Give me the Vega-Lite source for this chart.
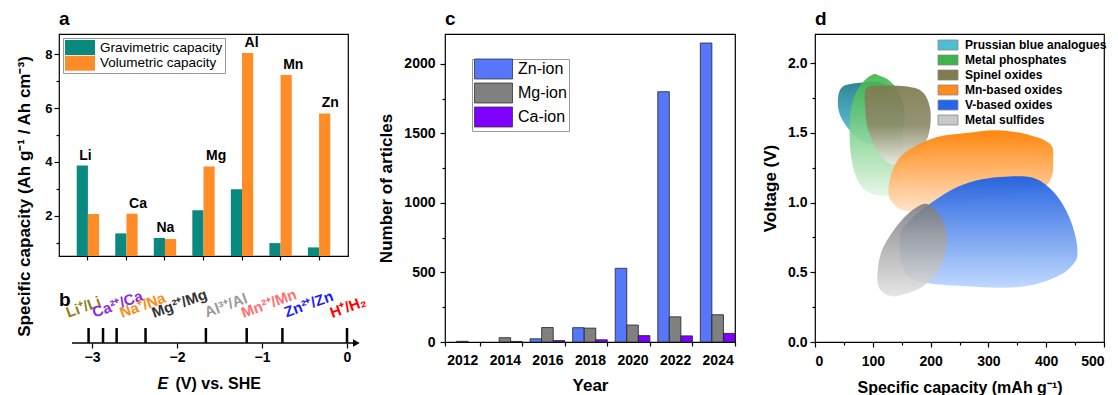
{
  "$schema": "https://vega.github.io/schema/vega-lite/v6.json",
  "padding": {"left": 14, "top": 9, "right": 5, "bottom": 5},
  "spacing": 5,
  "resolve": {"scale": {"color": "independent", "xOffset": "independent"}, "legend": {"color": "independent"}},
  "hconcat": [
    {
      "bounds": "flush",
      "spacing": 30,
      "resolve": {"scale": {"color": "independent", "xOffset": "independent"}, "legend": {"color": "independent"}},
      "vconcat": [
        {
          "title": {"text": "a"},
          "width": 289,
          "height": 222,
          "data": {"values": [
            {"metal": "Li", "kind": "Gravimetric capacity", "cap": 3.86},
            {"metal": "Li", "kind": "Volumetric capacity", "cap": 2.06},
            {"metal": "Ca", "kind": "Gravimetric capacity", "cap": 1.34},
            {"metal": "Ca", "kind": "Volumetric capacity", "cap": 2.07},
            {"metal": "Na", "kind": "Gravimetric capacity", "cap": 1.17},
            {"metal": "Na", "kind": "Volumetric capacity", "cap": 1.13},
            {"metal": "Mg", "kind": "Gravimetric capacity", "cap": 2.2},
            {"metal": "Mg", "kind": "Volumetric capacity", "cap": 3.83},
            {"metal": "Al", "kind": "Gravimetric capacity", "cap": 2.98},
            {"metal": "Al", "kind": "Volumetric capacity", "cap": 8.04},
            {"metal": "Mn", "kind": "Gravimetric capacity", "cap": 0.98},
            {"metal": "Mn", "kind": "Volumetric capacity", "cap": 7.23},
            {"metal": "Zn", "kind": "Gravimetric capacity", "cap": 0.82},
            {"metal": "Zn", "kind": "Volumetric capacity", "cap": 5.8}
          ]},
          "encoding": {
            "x": {
              "field": "metal", "type": "nominal", "sort": null,
              "scale": {"paddingInner": 0.42, "paddingOuter": 0.46},
              "axis": {"labels": false, "title": null, "tickSize": 4, "domain": false}
            },
            "xOffset": {"field": "kind", "type": "nominal", "sort": ["Gravimetric capacity", "Volumetric capacity"]},
            "y": {
              "field": "cap", "type": "quantitative",
              "scale": {"domain": [0.5, 8.75], "nice": false, "zero": false},
              "axis": {
                "values": [1, 2, 3, 4, 5, 6, 7, 8],
                "labelExpr": "datum.value % 2 == 0 ? datum.label : ''",
                "tickSize": {"condition": {"test": "datum.value % 2 == 1", "value": 3}, "value": 5},
                "labelFontSize": 13,
                "labelPadding": 2,
                "domain": false,
                "title": "Specific capacity (Ah g⁻¹ / Ah cm⁻³)",
                "titleFontSize": 17,
                "titleY": 162,
                "titleX": -26,
                "titleAlign": "center",
                "titleBaseline": "bottom"
              }
            }
          },
          "layer": [
            {
              "mark": {"type": "bar", "clip": true},
              "encoding": {
                "color": {
                  "field": "kind", "type": "nominal",
                  "scale": {"domain": ["Gravimetric capacity", "Volumetric capacity"], "range": ["#0A8A7E", "#FF8C26"]},
                  "legend": {
                    "orient": "none", "legendX": 4, "legendY": 4, "title": null,
                    "strokeColor": "#999", "fillColor": "white", "padding": 2,
                    "symbolType": "M-1,-1H3V1H-1Z", "symbolSize": 225, "symbolStrokeWidth": 0,
                    "labelFontSize": 13.5, "labelOffset": 20, "rowPadding": 0.7, "labelColor": "black"
                  }
                }
              }
            },
            {
              "transform": [
                {"joinaggregate": [{"op": "max", "field": "cap", "as": "top"}], "groupby": ["metal"]},
                {"filter": "datum.cap == datum.top"}
              ],
              "mark": {"type": "text", "align": "left", "baseline": "alphabetic", "dx": -3, "dy": -6, "fontSize": 14, "fontWeight": "bold", "color": "black"},
              "encoding": {"text": {"field": "metal"}}
            }
          ]
        },
        {
          "title": {"text": "b", "offset": -24},
          "width": 313,
          "height": 57,
          "view": {"stroke": null},
          "data": {"values": [
            {"ion": "Li", "couple": "Li⁺/Li", "E": -3.04},
            {"ion": "Ca", "couple": "Ca²⁺/Ca", "E": -2.87},
            {"ion": "Na", "couple": "Na⁺/Na", "E": -2.71},
            {"ion": "Mg", "couple": "Mg²⁺/Mg", "E": -2.37},
            {"ion": "Al", "couple": "Al³⁺/Al", "E": -1.66},
            {"ion": "Mn", "couple": "Mn²⁺/Mn", "E": -1.18},
            {"ion": "Zn", "couple": "Zn²⁺/Zn", "E": -0.76},
            {"ion": "H", "couple": "H⁺/H₂", "E": 0}
          ]},
          "layer": [
            {
              "data": {"values": [{}]},
              "mark": {"type": "rule", "color": "black", "strokeWidth": 1.5},
              "encoding": {
                "x": {
                  "datum": -3.235, "type": "quantitative",
                  "scale": {"domain": [-3.388, 0.294], "nice": false, "zero": false},
                  "axis": {
                    "orient": "bottom",
                    "values": [-3, -2.5, -2, -1.5, -1, -0.5, 0],
                    "format": "d",
                    "labelExpr": "datum.value % 1 == 0 ? datum.label : ''",
                    "tickSize": {"condition": {"test": "datum.value % 1 != 0", "value": 3}, "value": 5},
                    "domain": false,
                    "labelFontSize": 14,
                    "labelPadding": 2,
                    "title": "(V) vs. SHE",
                    "titleFontSize": 16,
                    "titleX": 116,
                    "titleY": 45,
                    "titleAlign": "left",
                    "titleBaseline": "alphabetic"
                  }
                },
                "x2": {"datum": 0.12},
                "y": {"datum": 0, "type": "quantitative", "scale": {"domain": [0, 1]}, "axis": null}
              }
            },
            {
              "data": {"values": [{}]},
              "mark": {"type": "point", "shape": "triangle-right", "filled": true, "color": "black", "size": 60, "opacity": 1},
              "encoding": {
                "x": {
                  "datum": 0.11, "type": "quantitative",
                  "axis": {
                    "orient": "bottom",
                    "labels": false, "ticks": false, "domain": false,
                    "title": "E", "titleFontStyle": "italic", "titleFontSize": 16,
                    "titleX": 98, "titleY": 45, "titleAlign": "left", "titleBaseline": "alphabetic"
                  }
                },
                "y": {"datum": 0, "type": "quantitative"}
              }
            },
            {
              "mark": {"type": "rule", "color": "black", "strokeWidth": 2.5},
              "encoding": {
                "x": {"field": "E", "type": "quantitative", "axis": null},
                "y": {"datum": 0, "type": "quantitative"},
                "y2": {"datum": 0.263}
              }
            },
            {
              "mark": {
                "type": "text", "angle": -20, "align": "left", "baseline": "alphabetic",
                "fontSize": 15, "fontWeight": "bold",
                "dx": {"expr": "[-19, -8, 5, 8, 1, -3, 4, -14][indexof(['Li','Ca','Na','Mg','Al','Mn','Zn','H'], datum.ion)]"},
                "dy": {"expr": "[-7, -3, 2, 3, 0, -1, 1, -5][indexof(['Li','Ca','Na','Mg','Al','Mn','Zn','H'], datum.ion)]"}
              },
              "encoding": {
                "x": {"field": "E", "type": "quantitative", "axis": null},
                "y": {"datum": 0.44, "type": "quantitative"},
                "text": {"field": "couple"},
                "color": {
                  "field": "ion", "type": "nominal", "legend": null,
                  "scale": {
                    "domain": ["Li", "Ca", "Na", "Mg", "Al", "Mn", "Zn", "H"],
                    "range": ["#8C7F1E", "#8A2BE2", "#FF8C1A", "#333333", "#9A9A9A", "#FF7070", "#1A1AFF", "#FF0000"]
                  }
                }
              }
            }
          ],
          "resolve": {"axis": {"x": "independent"}}
        }
      ]
    },
    {
      "bounds": "flush",
      "spacing": 80,
      "resolve": {"scale": {"color": "independent", "xOffset": "independent"}, "legend": {"color": "independent"}},
      "hconcat": [
        {
          "title": {"text": "c"},
          "width": 290,
          "height": 308,
          "data": {"values": [
            {"year": "2012", "series": "Mg-ion", "n": 5},
            {"year": "2014", "series": "Mg-ion", "n": 31},
            {"year": "2014", "series": "Ca-ion", "n": 4},
            {"year": "2016", "series": "Zn-ion", "n": 23},
            {"year": "2016", "series": "Mg-ion", "n": 104},
            {"year": "2016", "series": "Ca-ion", "n": 10},
            {"year": "2018", "series": "Zn-ion", "n": 103},
            {"year": "2018", "series": "Mg-ion", "n": 100},
            {"year": "2018", "series": "Ca-ion", "n": 16},
            {"year": "2020", "series": "Zn-ion", "n": 530},
            {"year": "2020", "series": "Mg-ion", "n": 122},
            {"year": "2020", "series": "Ca-ion", "n": 46},
            {"year": "2022", "series": "Zn-ion", "n": 1800},
            {"year": "2022", "series": "Mg-ion", "n": 181},
            {"year": "2022", "series": "Ca-ion", "n": 44},
            {"year": "2024", "series": "Zn-ion", "n": 2150},
            {"year": "2024", "series": "Mg-ion", "n": 196},
            {"year": "2024", "series": "Ca-ion", "n": 62}
          ]},
          "mark": {"type": "bar", "stroke": "#222222", "strokeWidth": 0.8},
          "encoding": {
            "x": {
              "field": "year", "type": "nominal",
              "scale": {"domain": ["2012", "2014", "2016", "2018", "2020", "2022", "2024"], "paddingInner": 0.185, "paddingOuter": 0},
              "axis": {"labelAngle": 0, "title": "Year", "tickBand": "extent", "tickSize": 4, "domain": false, "labelFontSize": 14, "labelPadding": 7, "titleFontSize": 17, "titlePadding": 10}
            },
            "xOffset": {"field": "series", "type": "nominal", "sort": ["Zn-ion", "Mg-ion", "Ca-ion"]},
            "y": {
              "field": "n", "type": "quantitative",
              "scale": {"domain": [0, 2215], "nice": false},
              "axis": {
                "values": [0, 250, 500, 750, 1000, 1250, 1500, 1750, 2000],
                "labelExpr": "datum.value % 500 == 0 ? datum.label : ''",
                "tickSize": {"condition": {"test": "datum.value % 500 != 0", "value": 3}, "value": 5},
                "format": "d",
                "domain": false,
                "labelFontSize": 14,
                "labelPadding": 5,
                "title": "Number of articles",
                "titleFontSize": 17,
                "titlePadding": 8
              }
            },
            "color": {
              "field": "series", "type": "nominal",
              "scale": {"domain": ["Zn-ion", "Mg-ion", "Ca-ion"], "range": ["#5876FA", "#808080", "#8000FF"]},
              "legend": {
                "orient": "none", "legendX": 27, "legendY": 25, "title": null,
                "strokeColor": "#999", "fillColor": "white", "padding": 2,
                "symbolType": "M-1,-1.333H4.067V1.333H-1Z", "symbolSize": 225,
                "symbolStrokeColor": "#333333", "symbolStrokeWidth": 0.8,
                "labelFontSize": 16, "labelOffset": 28, "rowPadding": 0, "labelColor": "black"
              }
            }
          }
        },
        {
          "title": {"text": "d"},
          "width": 289,
          "height": 308,
          "data": {"values": [
            {"mat": "Prussian blue analogues", "i": 0, "cap": 45, "v": 1.82},
            {"mat": "Prussian blue analogues", "i": 1, "cap": 78, "v": 1.86},
            {"mat": "Prussian blue analogues", "i": 2, "cap": 115, "v": 1.86},
            {"mat": "Prussian blue analogues", "i": 3, "cap": 145, "v": 1.78},
            {"mat": "Prussian blue analogues", "i": 4, "cap": 155, "v": 1.62},
            {"mat": "Prussian blue analogues", "i": 5, "cap": 148, "v": 1.5},
            {"mat": "Prussian blue analogues", "i": 6, "cap": 120, "v": 1.43},
            {"mat": "Prussian blue analogues", "i": 7, "cap": 88, "v": 1.43},
            {"mat": "Prussian blue analogues", "i": 8, "cap": 60, "v": 1.52},
            {"mat": "Prussian blue analogues", "i": 9, "cap": 41, "v": 1.66},
            {"mat": "Metal phosphates", "i": 0, "cap": 100, "v": 1.92},
            {"mat": "Metal phosphates", "i": 1, "cap": 112, "v": 1.91},
            {"mat": "Metal phosphates", "i": 2, "cap": 130, "v": 1.87},
            {"mat": "Metal phosphates", "i": 3, "cap": 145, "v": 1.78},
            {"mat": "Metal phosphates", "i": 4, "cap": 152, "v": 1.55},
            {"mat": "Metal phosphates", "i": 5, "cap": 150, "v": 1.25},
            {"mat": "Metal phosphates", "i": 6, "cap": 138, "v": 1.08},
            {"mat": "Metal phosphates", "i": 7, "cap": 120, "v": 1.05},
            {"mat": "Metal phosphates", "i": 8, "cap": 95, "v": 1.07},
            {"mat": "Metal phosphates", "i": 9, "cap": 75, "v": 1.15},
            {"mat": "Metal phosphates", "i": 10, "cap": 63, "v": 1.32},
            {"mat": "Metal phosphates", "i": 11, "cap": 60, "v": 1.55},
            {"mat": "Metal phosphates", "i": 12, "cap": 66, "v": 1.74},
            {"mat": "Metal phosphates", "i": 13, "cap": 82, "v": 1.86},
            {"mat": "Spinel oxides", "i": 0, "cap": 89, "v": 1.82},
            {"mat": "Spinel oxides", "i": 1, "cap": 118, "v": 1.84},
            {"mat": "Spinel oxides", "i": 2, "cap": 164, "v": 1.83},
            {"mat": "Spinel oxides", "i": 3, "cap": 187, "v": 1.79},
            {"mat": "Spinel oxides", "i": 4, "cap": 199, "v": 1.68},
            {"mat": "Spinel oxides", "i": 5, "cap": 199, "v": 1.54},
            {"mat": "Spinel oxides", "i": 6, "cap": 190, "v": 1.42},
            {"mat": "Spinel oxides", "i": 7, "cap": 173, "v": 1.35},
            {"mat": "Spinel oxides", "i": 8, "cap": 147, "v": 1.28},
            {"mat": "Spinel oxides", "i": 9, "cap": 130, "v": 1.28},
            {"mat": "Spinel oxides", "i": 10, "cap": 110, "v": 1.36},
            {"mat": "Spinel oxides", "i": 11, "cap": 92, "v": 1.52},
            {"mat": "Spinel oxides", "i": 12, "cap": 87, "v": 1.68},
            {"mat": "Mn-based oxides", "i": 0, "cap": 127, "v": 1.08},
            {"mat": "Mn-based oxides", "i": 1, "cap": 136, "v": 1.25},
            {"mat": "Mn-based oxides", "i": 2, "cap": 159, "v": 1.37},
            {"mat": "Mn-based oxides", "i": 3, "cap": 210, "v": 1.47},
            {"mat": "Mn-based oxides", "i": 4, "cap": 262, "v": 1.5},
            {"mat": "Mn-based oxides", "i": 5, "cap": 314, "v": 1.52},
            {"mat": "Mn-based oxides", "i": 6, "cap": 366, "v": 1.49},
            {"mat": "Mn-based oxides", "i": 7, "cap": 407, "v": 1.42},
            {"mat": "Mn-based oxides", "i": 8, "cap": 412, "v": 1.3},
            {"mat": "Mn-based oxides", "i": 9, "cap": 409, "v": 1.18},
            {"mat": "Mn-based oxides", "i": 10, "cap": 389, "v": 1.11},
            {"mat": "Mn-based oxides", "i": 11, "cap": 291, "v": 1.04},
            {"mat": "Mn-based oxides", "i": 12, "cap": 205, "v": 0.96},
            {"mat": "Mn-based oxides", "i": 13, "cap": 159, "v": 0.94},
            {"mat": "Mn-based oxides", "i": 14, "cap": 136, "v": 0.99},
            {"mat": "V-based oxides", "i": 0, "cap": 150, "v": 0.8},
            {"mat": "V-based oxides", "i": 1, "cap": 176, "v": 0.92},
            {"mat": "V-based oxides", "i": 2, "cap": 205, "v": 1.01},
            {"mat": "V-based oxides", "i": 3, "cap": 245, "v": 1.11},
            {"mat": "V-based oxides", "i": 4, "cap": 291, "v": 1.17},
            {"mat": "V-based oxides", "i": 5, "cap": 349, "v": 1.19},
            {"mat": "V-based oxides", "i": 6, "cap": 383, "v": 1.17},
            {"mat": "V-based oxides", "i": 7, "cap": 412, "v": 1.08},
            {"mat": "V-based oxides", "i": 8, "cap": 435, "v": 0.94},
            {"mat": "V-based oxides", "i": 9, "cap": 450, "v": 0.77},
            {"mat": "V-based oxides", "i": 10, "cap": 454, "v": 0.63},
            {"mat": "V-based oxides", "i": 11, "cap": 447, "v": 0.56},
            {"mat": "V-based oxides", "i": 12, "cap": 424, "v": 0.48},
            {"mat": "V-based oxides", "i": 13, "cap": 378, "v": 0.41},
            {"mat": "V-based oxides", "i": 14, "cap": 326, "v": 0.39},
            {"mat": "V-based oxides", "i": 15, "cap": 262, "v": 0.4},
            {"mat": "V-based oxides", "i": 16, "cap": 199, "v": 0.42},
            {"mat": "V-based oxides", "i": 17, "cap": 164, "v": 0.46},
            {"mat": "V-based oxides", "i": 18, "cap": 150, "v": 0.56},
            {"mat": "V-based oxides", "i": 19, "cap": 147, "v": 0.68},
            {"mat": "Metal sulfides", "i": 0, "cap": 187, "v": 0.99},
            {"mat": "Metal sulfides", "i": 1, "cap": 202, "v": 0.97},
            {"mat": "Metal sulfides", "i": 2, "cap": 219, "v": 0.89},
            {"mat": "Metal sulfides", "i": 3, "cap": 228, "v": 0.77},
            {"mat": "Metal sulfides", "i": 4, "cap": 225, "v": 0.63},
            {"mat": "Metal sulfides", "i": 5, "cap": 213, "v": 0.51},
            {"mat": "Metal sulfides", "i": 6, "cap": 187, "v": 0.4},
            {"mat": "Metal sulfides", "i": 7, "cap": 153, "v": 0.34},
            {"mat": "Metal sulfides", "i": 8, "cap": 130, "v": 0.33},
            {"mat": "Metal sulfides", "i": 9, "cap": 112, "v": 0.38},
            {"mat": "Metal sulfides", "i": 10, "cap": 108, "v": 0.48},
            {"mat": "Metal sulfides", "i": 11, "cap": 115, "v": 0.65},
            {"mat": "Metal sulfides", "i": 12, "cap": 136, "v": 0.8},
            {"mat": "Metal sulfides", "i": 13, "cap": 161, "v": 0.92}
          ]},
          "encoding": {
            "x": {
              "field": "cap", "type": "quantitative",
              "scale": {"domain": [0, 500], "nice": false},
              "axis": {
                "values": [0, 50, 100, 150, 200, 250, 300, 350, 400, 450, 500],
                "labelExpr": "datum.value % 100 == 0 ? datum.label : ''",
                "tickSize": {"condition": {"test": "datum.value % 100 != 0", "value": 3}, "value": 5},
                "format": "d",
                "domain": false,
                "labelFontSize": 14,
                "labelPadding": 7,
                "title": "Specific capacity (mAh g⁻¹)",
                "titleFontSize": 16,
                "titlePadding": 11
              }
            },
            "y": {
              "field": "v", "type": "quantitative",
              "scale": {"domain": [0, 2.21], "nice": false},
              "axis": {
                "values": [0, 0.25, 0.5, 0.75, 1, 1.25, 1.5, 1.75, 2],
                "labelExpr": "datum.value % 0.5 == 0 ? datum.label : ''",
                "tickSize": {"condition": {"test": "datum.value % 0.5 != 0", "value": 3}, "value": 5},
                "format": ".1f",
                "domain": false,
                "labelFontSize": 14,
                "labelPadding": 3,
                "title": "Voltage (V)",
                "titleFontSize": 17,
                "titlePadding": 8
              }
            },
            "order": {"field": "i", "type": "quantitative"}
          },
          "layer": [
            {
              "transform": [{"filter": "datum.mat == 'Prussian blue analogues'"}],
              "mark": {"type": "line", "interpolate": "cardinal-closed", "strokeWidth": 0, "fillOpacity": 0.92,
                "fill": {"gradient": "linear", "x1": 0, "y1": 0, "x2": 0, "y2": 1, "stops": [{"offset": 0, "color": "#1E7A8C"}, {"offset": 1, "color": "#5CC8E0"}]}}
            },
            {
              "transform": [{"filter": "datum.mat == 'Metal phosphates'"}],
              "mark": {"type": "line", "interpolate": "cardinal-closed", "strokeWidth": 0, "fillOpacity": 0.9,
                "fill": {"gradient": "linear", "x1": 0, "y1": 0, "x2": 0, "y2": 1, "stops": [{"offset": 0, "color": "#3DB54A"}, {"offset": 0.35, "color": "#6CC97A"}, {"offset": 1, "color": "#E3F6E3"}]}}
            },
            {
              "transform": [{"filter": "datum.mat == 'Spinel oxides'"}],
              "mark": {"type": "line", "interpolate": "cardinal-closed", "strokeWidth": 0, "fillOpacity": 0.92,
                "fill": {"gradient": "linear", "x1": 0, "y1": 0, "x2": 0, "y2": 1, "stops": [{"offset": 0, "color": "#7F7A4F"}, {"offset": 0.5, "color": "#8C8A68"}, {"offset": 1, "color": "#ECECE6"}]}}
            },
            {
              "transform": [{"filter": "datum.mat == 'Mn-based oxides'"}],
              "mark": {"type": "line", "interpolate": "cardinal-closed", "strokeWidth": 0, "fillOpacity": 0.95,
                "fill": {"gradient": "linear", "x1": 0, "y1": 0, "x2": 0, "y2": 1, "stops": [{"offset": 0, "color": "#FF8000"}, {"offset": 1, "color": "#FFE2C6"}]}}
            },
            {
              "transform": [{"filter": "datum.mat == 'V-based oxides'"}],
              "mark": {"type": "line", "interpolate": "cardinal-closed", "strokeWidth": 0, "fillOpacity": 0.95,
                "fill": {"gradient": "linear", "x1": 0, "y1": 0, "x2": 0, "y2": 1, "stops": [{"offset": 0, "color": "#1E5FE0"}, {"offset": 1, "color": "#BCD6FF"}]}}
            },
            {
              "transform": [{"filter": "datum.mat == 'Metal sulfides'"}],
              "mark": {"type": "line", "interpolate": "cardinal-closed", "strokeWidth": 0, "fillOpacity": 0.88,
                "fill": {"gradient": "linear", "x1": 0, "y1": 0, "x2": 0, "y2": 1, "stops": [{"offset": 0, "color": "#7A7A7A"}, {"offset": 1, "color": "#E2E2E2"}]}}
            },
            {
              "mark": {"type": "point", "shape": "square", "filled": true, "opacity": 0},
              "encoding": {
                "color": {
                  "field": "mat", "type": "nominal",
                  "scale": {
                    "domain": ["Prussian blue analogues", "Metal phosphates", "Spinel oxides", "Mn-based oxides", "V-based oxides", "Metal sulfides"],
                    "range": ["#50BED2", "#3DB54A", "#807C4E", "#FF8A1F", "#2466E6", "#C8C8C8"]
                  },
                  "legend": {
                    "orient": "none", "legendX": 122, "legendY": 5, "title": null, "padding": 0,
                    "symbolType": "M-1,-1H3V1H-1Z", "symbolSize": 100, "symbolOpacity": 1,
                    "symbolStrokeColor": "#888888", "symbolStrokeWidth": 0.8,
                    "labelFontSize": 12, "labelFontWeight": "bold", "labelOffset": 16, "rowPadding": 1, "labelColor": "black"
                  }
                }
              }
            }
          ]
        }
      ]
    }
  ],
  "config": {
    "font": "Liberation Sans",
    "view": {"stroke": "black", "strokeWidth": 1.2},
    "axis": {
      "domainColor": "black", "tickColor": "black", "labelColor": "black", "titleColor": "black",
      "labelFontWeight": "bold", "titleFontWeight": "bold", "grid": false, "tickWidth": 1.2
    },
    "title": {"fontSize": 19, "fontWeight": "bold", "anchor": "start", "frame": "group", "offset": 5, "color": "black"}
  }
}
